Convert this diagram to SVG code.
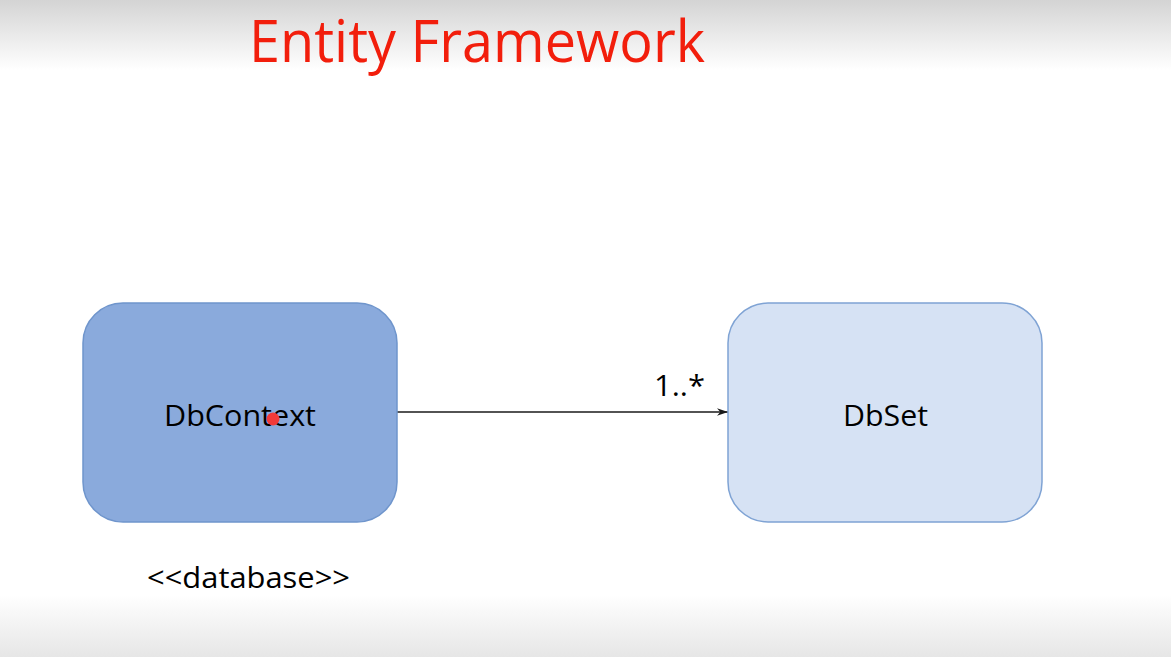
<svg xmlns="http://www.w3.org/2000/svg" width="1171" height="657" viewBox="0 0 1171 657">
<defs>
<linearGradient id="bgTop" x1="0" y1="0" x2="0" y2="1">
<stop offset="0" stop-color="#d4d4d4"/>
<stop offset="1" stop-color="#ffffff"/>
</linearGradient>
<linearGradient id="bgBot" x1="0" y1="0" x2="0" y2="1">
<stop offset="0" stop-color="#ffffff"/>
<stop offset="1" stop-color="#e6e6e6"/>
</linearGradient>
<marker id="arrow" viewBox="0 0 10 10" refX="10" refY="5" markerWidth="11" markerHeight="11" markerUnits="userSpaceOnUse" orient="auto">
<path d="M0,1.5 L10,5 L0,8.5 L3,5 Z" fill="#1a1a1a"/>
</marker>
</defs>
<style>
.lbl{font-family:"Open Sans","Liberation Sans",sans-serif;font-size:30px;fill:#000;}
.title{font-family:"Open Sans","Liberation Sans",sans-serif;font-size:58px;fill:#f21e0c;}
</style>
<rect x="0" y="0" width="1171" height="657" fill="#ffffff"/>
<rect x="0" y="0" width="1171" height="70" fill="url(#bgTop)"/>
<rect x="0" y="595" width="1171" height="62" fill="url(#bgBot)"/>
<text class="title" x="249" y="62" textLength="456" lengthAdjust="spacingAndGlyphs">Entity Framework</text>
<g id="connectors">
<line x1="397" y1="412" x2="728" y2="412" stroke="#1a1a1a" stroke-width="1.5" marker-end="url(#arrow)"/>
<text class="lbl" x="654" y="396" textLength="51" lengthAdjust="spacingAndGlyphs">1..*</text>
</g>
<g id="dbcontext">
<rect x="83" y="303" width="314" height="219" rx="40" ry="40" fill="#8aaadc" stroke="#6f95cc" stroke-width="1.5"/>
<text class="lbl" x="164" y="426" textLength="152" lengthAdjust="spacingAndGlyphs">DbContext</text>
</g>
<g id="dbset">
<rect x="728" y="303" width="314" height="219" rx="40" ry="40" fill="#d6e2f4" stroke="#7fa3d4" stroke-width="1.5"/>
<text class="lbl" x="843" y="426" textLength="85" lengthAdjust="spacingAndGlyphs">DbSet</text>
</g>
<text class="lbl" x="147" y="588" textLength="203" lengthAdjust="spacingAndGlyphs">&lt;&lt;database&gt;&gt;</text>
<circle cx="273" cy="419" r="6.5" fill="#f23a3a"/>
</svg>
